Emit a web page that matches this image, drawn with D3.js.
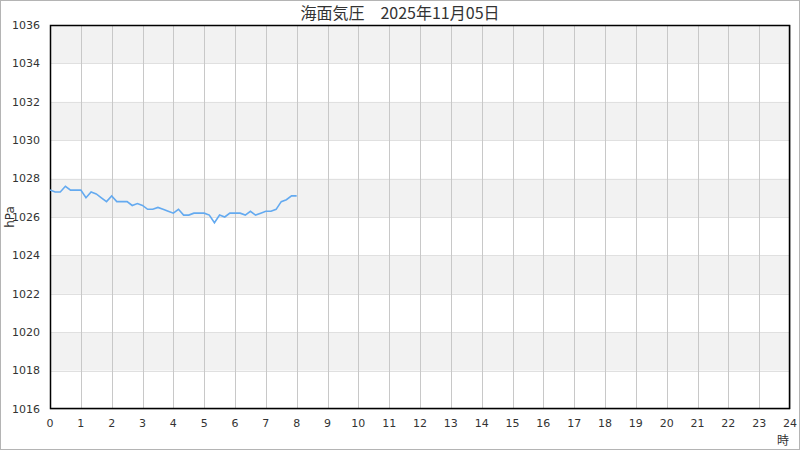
<!DOCTYPE html>
<html><head><meta charset="utf-8">
<script src="https://cdn.jsdelivr.net/npm/d3@7"></script>
<style>
body{margin:0;background:#fff;}
svg text{font-family:"DejaVu Sans","Noto Sans CJK JP",sans-serif;fill:#333;}
svg text.cjk{font-family:"Noto Sans CJK JP","DejaVu Sans",sans-serif;}
</style></head>
<body><svg id="c" width="800" height="450"></svg>
<script>
const title = "海面気圧　2025年11月05日";
const yTicks = [1016,1018,1020,1022,1024,1026,1028,1030,1032,1034,1036];
const xTicks = d3.range(0,25);
// 10-minute readings from 0:00 to 8:00 (hours)
const times = d3.range(0,49).map(i=>i/6);
const pressure = [
1027.4,1027.3,1027.3,1027.6,1027.4,1027.4,
1027.4,1027.0,1027.3,1027.2,1027.0,1026.8,
1027.1,1026.8,1026.8,1026.8,1026.6,1026.7,
1026.6,1026.4,1026.4,1026.5,1026.4,1026.3,
1026.2,1026.4,1026.1,1026.1,1026.2,1026.2,
1026.2,1026.1,1025.7,1026.1,1026.0,1026.2,
1026.2,1026.2,1026.1,1026.3,1026.1,1026.2,
1026.3,1026.3,1026.4,1026.8,1026.9,1027.1,
1027.1];

const svg = d3.select("#c");
const m = {l:50,r:10,t:25,b:41};
const W=800,H=450;
const x = d3.scaleLinear().domain([0,24]).range([m.l, W-m.r]);
const y = d3.scaleLinear().domain([1016,1036]).range([H-m.b, m.t]);

svg.append("rect").attr("x",0.5).attr("y",0.5).attr("width",W-1).attr("height",H-1)
  .attr("fill","#fff").attr("stroke","#b4b4b4");

// bands
const bands = yTicks.filter((d,i)=>i%2===1 && d<1036);
svg.append("g").selectAll("rect").data(bands).join("rect")
  .attr("x",x(0)).attr("width",x(24)-x(0))
  .attr("y",d=>y(d+2)).attr("height",d=>y(d)-y(d+2))
  .attr("fill","#f2f2f2");

// horizontal grid
svg.append("g").selectAll("line").data(yTicks).join("line")
  .attr("x1",x(0)).attr("x2",x(24))
  .attr("y1",d=>Math.round(y(d))+0.5).attr("y2",d=>Math.round(y(d))+0.5)
  .attr("stroke","#e0e0e0");
// vertical grid
svg.append("g").selectAll("line").data(xTicks).join("line")
  .attr("y1",y(1016)).attr("y2",y(1036))
  .attr("x1",d=>Math.round(x(d))+0.5).attr("x2",d=>Math.round(x(d))+0.5)
  .attr("stroke","#c8c8c8");

// frame
svg.append("rect").attr("x",x(0)+0.5).attr("y",y(1036)+0.5)
  .attr("width",x(24)-x(0)-1).attr("height",y(1016)-y(1036)-1)
  .attr("fill","none").attr("stroke","#000").attr("stroke-width",1.5);

// line
const line = d3.line().x((d,i)=>x(times[i])).y(d=>y(d));
svg.append("path").datum(pressure).attr("d",line)
  .attr("fill","none").attr("stroke","#64aaf0").attr("stroke-width",1.6);

// axes labels
svg.append("g").selectAll("text").data(yTicks).join("text")
  .attr("x",40).attr("y",d=>y(d)).attr("dy","0.35em")
  .attr("text-anchor","end").attr("font-size",11).text(d=>d);
svg.append("g").selectAll("text").data(xTicks).join("text")
  .attr("x",d=>x(d)).attr("y",y(1016)+18)
  .attr("text-anchor","middle").attr("font-size",11).text(d=>d);

svg.append("text").attr("class","cjk").attr("x",783).attr("y",445).attr("text-anchor","middle")
  .attr("font-size",12).text("時");
svg.append("text").attr("transform",`translate(14,${y(1026)}) rotate(-90)`)
  .attr("text-anchor","middle").attr("font-size",12).text("hPa");

svg.append("text").attr("class","cjk").attr("x",400).attr("y",19).attr("text-anchor","middle")
  .attr("font-size",16).text(title);
</script></body></html>
